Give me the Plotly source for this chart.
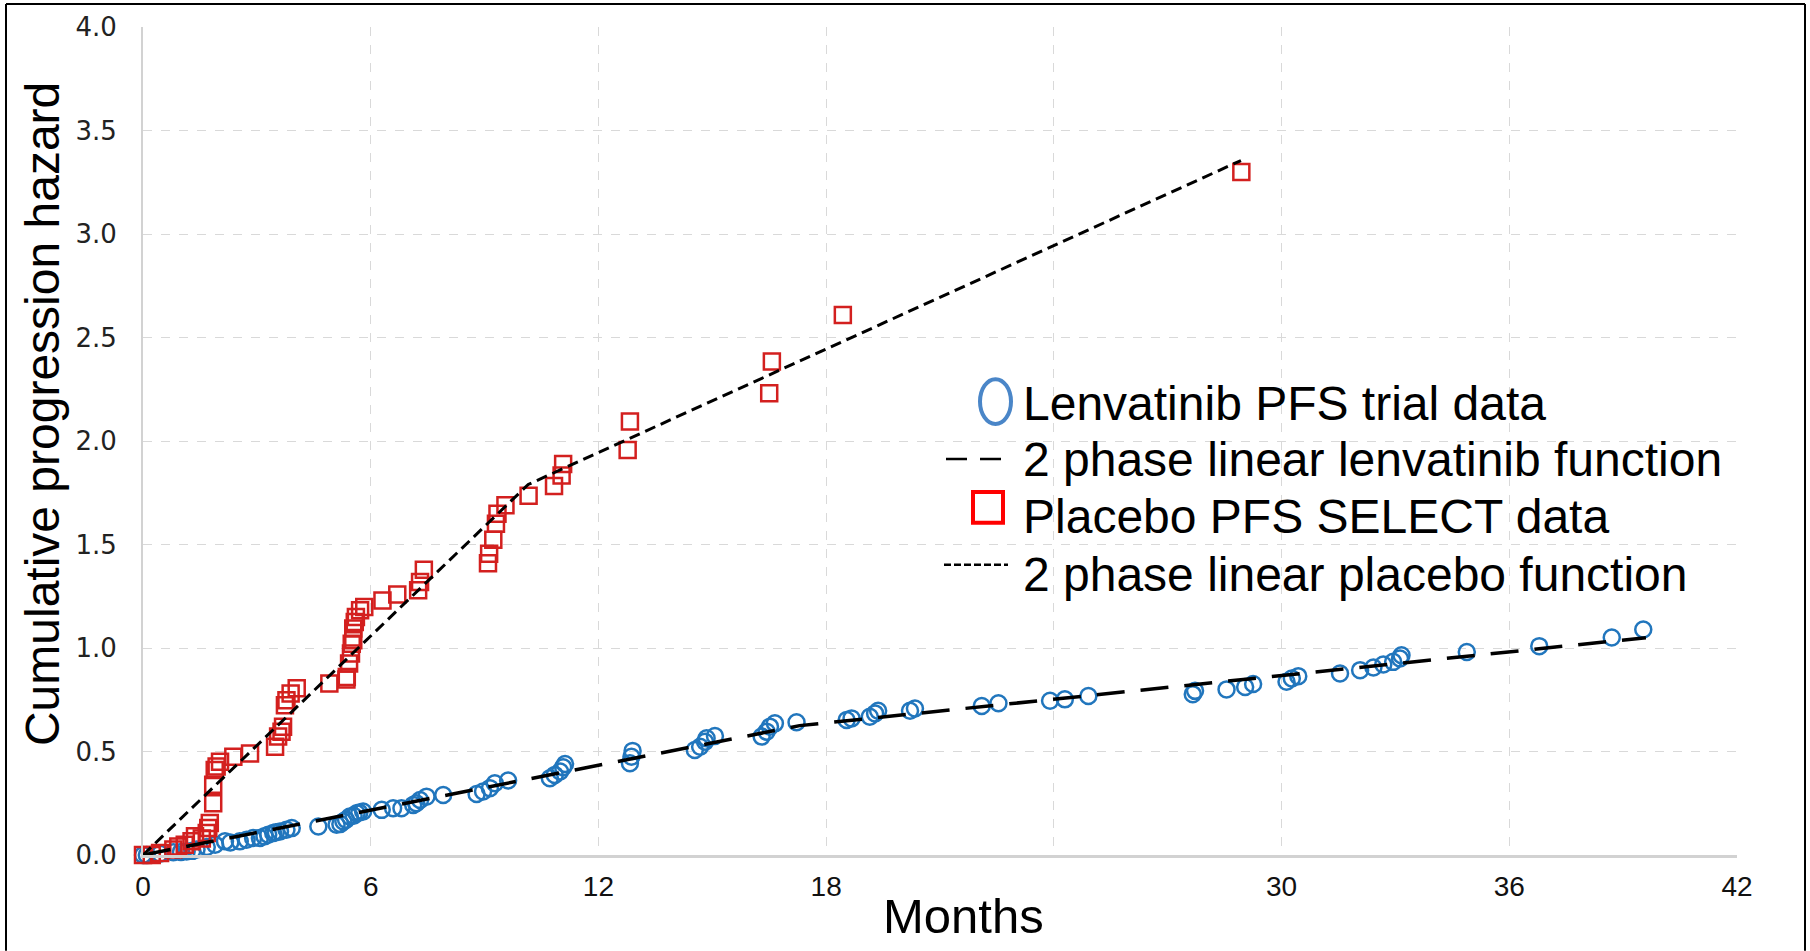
import plotly.graph_objects as go

# ---------------- data ----------------
lenv_months = [0.0, 0.1, 0.45, 0.8, 1.0, 1.15, 1.3, 1.41, 1.68, 1.9, 2.16, 2.3, 2.55, 2.73, 2.9,
               3.08, 3.2, 3.3, 3.43, 3.5, 3.61, 3.78, 3.92, 4.62, 5.10, 5.2, 5.28, 5.35, 5.45,
               5.55, 5.63, 5.7, 5.80, 6.29, 6.59, 6.81, 7.12, 7.2, 7.30, 7.47, 7.91, 8.79, 8.96,
               9.14, 9.27, 9.62, 10.72, 10.85, 10.99, 11.07, 11.12, 12.83, 12.87, 12.9, 14.54,
               14.68, 14.81, 14.85, 15.07, 16.3, 16.43, 16.52, 16.65, 17.22, 18.54, 18.67, 19.15,
               19.29, 19.37, 20.21, 20.34, 22.1, 22.54, 23.9, 24.29, 24.91, 27.66, 27.72, 28.55,
               29.04, 29.25, 30.13, 30.27, 30.44, 31.54, 32.07, 32.42, 32.68, 32.94, 33.12, 33.16,
               34.88, 36.79, 38.7, 39.53]
lenv_hazard = [0.0, 0.0, 0.006, 0.013, 0.015, 0.017, 0.02, 0.026, 0.039, 0.05, 0.066, 0.06, 0.066,
               0.074, 0.082, 0.082, 0.09, 0.098, 0.106, 0.11, 0.114, 0.122, 0.13, 0.138, 0.146,
               0.15, 0.162, 0.17, 0.186, 0.19, 0.202, 0.205, 0.21, 0.218, 0.226, 0.226, 0.242,
               0.25, 0.266, 0.282, 0.29, 0.295, 0.307, 0.323, 0.347, 0.36, 0.371, 0.387, 0.403,
               0.424, 0.44, 0.443, 0.475, 0.503, 0.507, 0.523, 0.547, 0.564, 0.575, 0.572, 0.596,
               0.62, 0.636, 0.641, 0.652, 0.66, 0.668, 0.684, 0.697, 0.697, 0.708, 0.72, 0.733,
               0.745, 0.752, 0.768, 0.777, 0.793, 0.8, 0.812, 0.826, 0.837, 0.853, 0.864, 0.877,
               0.893, 0.906, 0.92, 0.933, 0.949, 0.965, 0.981, 1.009, 1.051, 1.089]

placebo_months = [0.0, 0.23, 0.45, 0.80, 0.93, 1.1, 1.28, 1.37, 1.55, 1.68, 1.72, 1.76, 1.85, 1.85,
                  1.89, 1.94, 2.03, 2.38, 2.82, 3.48, 3.56, 3.65, 3.69, 3.74, 3.78, 3.89, 4.05,
                  4.91, 5.36, 5.37, 5.43, 5.48, 5.50, 5.54, 5.54, 5.58, 5.61, 5.72, 5.83, 6.31,
                  6.70, 7.25, 7.30, 7.40, 9.09, 9.12, 9.23, 9.30, 9.34, 9.55, 10.16, 10.83, 11.03,
                  11.07, 12.77, 12.83, 16.50, 16.57, 18.44, 28.94]
placebo_hazard = [0.0, 0.0, 0.01, 0.026, 0.041, 0.05, 0.066, 0.09, 0.08, 0.106, 0.13, 0.154, 0.25,
                  0.339, 0.411, 0.427, 0.451, 0.475, 0.49, 0.523, 0.572, 0.596, 0.62, 0.724,
                  0.748, 0.78, 0.805, 0.829, 0.848, 0.86, 0.925, 0.973, 1.02, 1.038, 1.094, 1.126,
                  1.15, 1.182, 1.198, 1.23, 1.258, 1.279, 1.319, 1.378, 1.41, 1.455, 1.523, 1.60,
                  1.648, 1.69, 1.736, 1.783, 1.833, 1.889, 1.957, 2.094, 2.231, 2.384, 2.609, 3.30]

# two-phase linear functions (breakpoints)
lenv_fn_months = [0.0, 17.3, 39.6]
lenv_fn_hazard = [0.0, 0.625, 1.05]
placebo_fn_months = [0.0, 10.15, 28.93]
placebo_fn_hazard = [0.0, 1.79, 3.355]

x_tick_vals = [0, 6, 12, 18, 24, 30, 36, 42]
x_tick_text = ["0", "6", "12", "18", "", "30", "36", "42"]

series_names = ["Lenvatinib PFS trial data", "2 phase linear lenvatinib function",
                "Placebo PFS SELECT data", "2 phase linear placebo function"]

BLUE = "#2176bd"
RED = "#d3201f"
FONT = "Liberation Sans, Arial, sans-serif"

fig = go.Figure()

fig.add_trace(go.Scatter(
    x=lenv_months, y=lenv_hazard, mode="markers", name=series_names[0], showlegend=False,
    marker=dict(symbol="circle-open", size=16, color=BLUE, line=dict(width=2.5)),
    cliponaxis=False))
fig.add_trace(go.Scatter(
    x=placebo_months, y=placebo_hazard, mode="markers", name=series_names[2], showlegend=False,
    marker=dict(symbol="square-open", size=16, color=RED, line=dict(width=2.5)),
    cliponaxis=False))
fig.add_trace(go.Scatter(
    x=lenv_fn_months, y=lenv_fn_hazard, mode="lines", name=series_names[1], showlegend=False,
    line=dict(color="black", width=3.5, dash="28px,16px"), cliponaxis=False))
fig.add_trace(go.Scatter(
    x=placebo_fn_months, y=placebo_fn_hazard, mode="lines", name=series_names[3], showlegend=False,
    line=dict(color="black", width=3, dash="11px,6px"), cliponaxis=False))

W, H = 1810, 951
L, R, T, B = 143, 73, 25, 96
pw, ph = W - L - R, H - T - B


def px(xp):
    return (xp - L) / pw


def py(yp):
    return (H - B - yp) / ph


shapes = []
# outer black frame of the picture
for (a, b, c, d) in [(6, 951, 6, 2), (6, 2, 1805, 2), (1805, 951, 1805, 2)]:
    shapes.append(dict(type="line", xref="paper", yref="paper",
                       x0=px(a), y0=py(b), x1=px(c), y1=py(d),
                       line=dict(color="black", width=2), layer="above"))

# legend box (white, hides the gridlines behind it)
shapes.append(dict(type="rect", xref="paper", yref="paper",
                   x0=px(1000), x1=px(1742), y0=py(612), y1=py(372),
                   fillcolor="white", line=dict(width=0), layer="between"))
# legend symbols
shapes.append(dict(type="circle", xref="paper", yref="paper",
                   x0=px(980), x1=px(1011), y0=py(423), y1=py(378),
                   line=dict(color="#4a86c8", width=4), fillcolor="rgba(0,0,0,0)", layer="above"))
shapes.append(dict(type="line", xref="paper", yref="paper",
                   x0=px(946), x1=px(1004), y0=py(458), y1=py(458),
                   line=dict(color="black", width=2.5, dash="21px,13px"), layer="above"))
shapes.append(dict(type="rect", xref="paper", yref="paper",
                   x0=px(973), x1=px(1003), y0=py(522), y1=py(491),
                   line=dict(color="#ff0000", width=4), fillcolor="rgba(0,0,0,0)", layer="above"))
shapes.append(dict(type="line", xref="paper", yref="paper",
                   x0=px(944), x1=px(1008), y0=py(564), y1=py(564),
                   line=dict(color="black", width=2.5, dash="7px,3px"), layer="above"))

annotations = []
legend_rows_y = [402, 459, 516, 574]
for name, yy in zip(series_names, legend_rows_y):
    annotations.append(dict(text=name, xref="paper", yref="paper", x=px(1021), y=py(yy),
                            xanchor="left", yanchor="middle", showarrow=False,
                            font=dict(family=FONT, size=48, color="black")))
# axis titles
annotations.append(dict(text="Cumulative progression hazard", xref="paper", yref="paper",
                        x=px(42), y=py(413), xanchor="center", yanchor="middle", textangle=-90,
                        showarrow=False, font=dict(family=FONT, size=48, color="black")))
annotations.append(dict(text="Months", xref="paper", yref="paper",
                        x=px(963), y=py(916), xanchor="center", yanchor="middle",
                        showarrow=False, font=dict(family=FONT, size=49, color="black")))

fig.update_layout(
    width=W, height=H,
    margin=dict(l=L, r=R, t=T, b=B),
    paper_bgcolor="white", plot_bgcolor="white",
    font=dict(family=FONT, color="black"),
    shapes=shapes,
    annotations=annotations,
    showlegend=False,
    xaxis=dict(
        range=[0, 42], tickmode="array", tickvals=x_tick_vals, ticktext=x_tick_text,
        showgrid=True, gridcolor="#d9d9d9", griddash="dash", gridwidth=1,
        showline=True, linecolor="#d2d2d2", linewidth=3, zeroline=False,
        ticks="", ticklabelstandoff=4,
        tickfont=dict(family="Liberation Sans Narrow, Arial Narrow, Liberation Sans, sans-serif",
                      size=28, color="#111111"),
    ),
    yaxis=dict(
        range=[0, 4], dtick=0.5, tick0=0, tickformat=".1f",
        showgrid=True, gridcolor="#d9d9d9", griddash="dash", gridwidth=1,
        showline=True, linecolor="#d2d2d2", linewidth=2, zeroline=False,
        ticks="", ticklabelstandoff=19,
        tickfont=dict(family="DejaVu Sans, sans-serif", size=26, color="#222222"),
    ),
)

fig.write_html("out.html", config={"displayModeBar": False},
               post_script="document.body.style.margin='0';")
